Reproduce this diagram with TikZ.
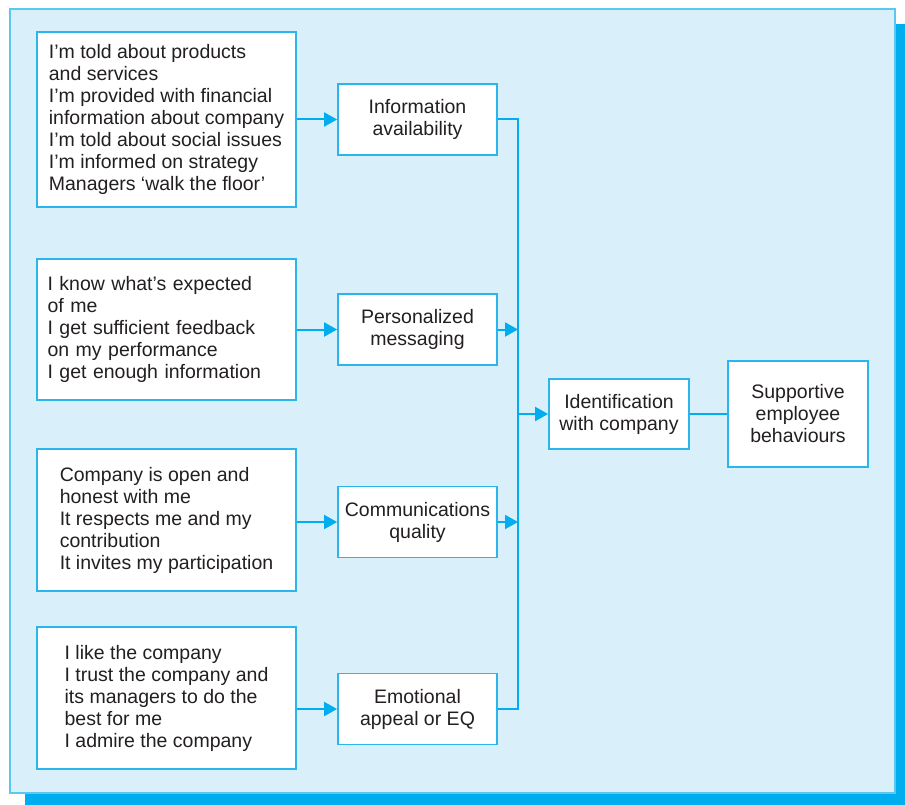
\documentclass[tikz,border=0pt]{standalone}
\usepackage{fontspec}
\setmainfont{Liberation Sans}
\usetikzlibrary{arrows.meta}
\definecolor{shadowblue}{HTML}{00AEEF}
\definecolor{panelfill}{HTML}{D9F0FB}
\definecolor{panelline}{HTML}{5CC8F2}
\definecolor{boxline}{HTML}{2BB5EC}
\definecolor{ink}{HTML}{231F20}
\tikzset{
  basebox/.style={draw=boxline, fill=white, line width=1.8pt, text=ink,
    font=\fontsize{19.5}{22}\selectfont, inner sep=0pt},
  itembox/.style={basebox, align=left, minimum width=259pt},
  factorbox/.style={basebox, align=center, minimum width=159pt, minimum height=71pt},
  outbox/.style={basebox, align=center, minimum width=140pt},
  link/.style={draw=shadowblue, line width=2pt},
  arrowlink/.style={link, -{Triangle[length=13pt,width=14pt]}}
}
\begin{document}
\begin{tikzpicture}[x=1pt, y=-1pt]
\useasboundingbox (0,0) rectangle (905,805);
% panel with its drop shadow
\fill[shadowblue] (25,24) rectangle (905,805);
\filldraw[fill=panelfill, draw=panelline, line width=1.8pt] (10,9) rectangle (895,793);

% statement boxes
\node[itembox, minimum height=175pt] (l1) at (166.5,119.5)
  {I’m told about products\\and services\\I’m provided with financial\\information about company\\I’m told about social issues\\I’m informed on strategy\\Managers ‘walk the floor’};
\node[itembox, minimum height=141pt, text width=238pt] (l2) at (166.5,329.5)
  {I know what’s expected\\of me\\I get sufficient feedback\\on my performance\\I get enough information};
\node[itembox, minimum height=142pt] (l3) at (166.5,520)
  {Company is open and\\honest with me\\It respects me and my\\contribution\\It invites my participation};
\node[itembox, minimum height=142pt] (l4) at (166.5,698)
  {I like the company\\I trust the company and\\its managers to do the\\best for me\\I admire the company};

% communication factors
\node[factorbox] (m1) at (417.5,119.5) {Information\\availability};
\node[factorbox] (m2) at (417.5,329.5) {Personalized\\messaging};
\node[factorbox] (m3) at (417.5,522) {Communications\\quality};
\node[factorbox] (m4) at (417.5,709) {Emotional\\appeal or EQ};

% outcomes
\node[outbox, minimum height=70pt] (id) at (619,414) {Identification\\with company};
\node[outbox, minimum height=106pt] (sup) at (798,414) {Supportive\\employee\\behaviours};

% collecting bus
\coordinate (bustop) at (518,119.5);
\coordinate (busbot) at (518,709);

\draw[arrowlink] (l1.east |- m1.west) -- (m1.west);
\draw[arrowlink] (l2.east |- m2.west) -- (m2.west);
\draw[arrowlink] (l3.east |- m3.west) -- (m3.west);
\draw[arrowlink] (l4.east |- m4.west) -- (m4.west);

\draw[link] (m1.east) -- (bustop) -- (busbot) -- (m4.east);
\draw[arrowlink] (m2.east) -- (m2.east -| bustop);
\draw[arrowlink] (m3.east) -- (m3.east -| bustop);
\draw[arrowlink] (id.west -| bustop) -- (id.west);
\draw[link] (id.east) -- (sup.west);
\end{tikzpicture}
\end{document}
